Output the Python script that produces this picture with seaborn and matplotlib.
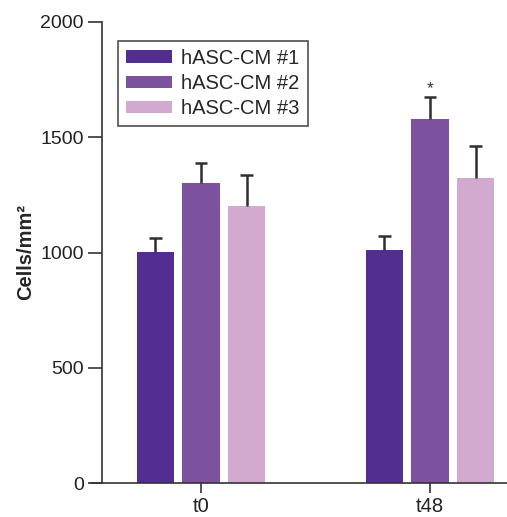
import matplotlib
matplotlib.use("Agg")
import matplotlib.pyplot as plt
import seaborn as sns
import pandas as pd
import numpy as np

timepoints = ["t0", "t48"]
groups = ["hASC-CM #1", "hASC-CM #2", "hASC-CM #3"]
means_t0 = [1002, 1301, 1202]
means_t48 = [1011, 1579, 1323]
err_t0 = [61, 87, 134]
err_t48 = [61, 96, 139]
colors = ["#512E8F", "#7C519E", "#D2A9CF"]

sns.set_style("ticks")
plt.rcParams["font.family"] = ["Liberation Sans", "DejaVu Sans"]

df = pd.DataFrame({
    "time": [t for t in timepoints for _ in groups],
    "group": groups * 2,
    "value": means_t0 + means_t48,
    "err": err_t0 + err_t48,
})

fig = plt.figure(figsize=(5.07, 5.17), dpi=100)
ax = fig.add_axes([91/507, (517-483)/517, (507-91)/507, (483-22)/517])

sns.barplot(data=df, x="time", y="value", hue="group", order=timepoints,
            hue_order=groups, palette=colors, width=0.6, gap=0.19,
            errorbar=None, ax=ax, saturation=1, linewidth=0)

# error bars (upper only) at bar centers
bars = [p for p in ax.patches if p.get_height() > 0 and p.get_width() < 0.5]
bars_sorted = sorted(bars, key=lambda p: p.get_x())
ecol = "#2e2e2e"
cap_half = 0.028
for p in bars_sorted:
    cx = p.get_x() + p.get_width() / 2
    h = p.get_height()
    row = df.iloc[(df["value"] - h).abs().argmin()]
    top = h + row["err"]
    ax.vlines(cx, h, top, color=ecol, linewidth=1.8, zorder=3)
    ax.hlines(top, cx - cap_half, cx + cap_half, color=ecol, linewidth=1.8, zorder=3)

# significance star above t48 #2
star_bar = [p for p in bars_sorted if abs(p.get_height() - means_t48[1]) < 1][0]
ax.text(star_bar.get_x() + star_bar.get_width() / 2, means_t48[1] + err_t48[1] + 5,
        "*", ha="center", va="bottom", fontsize=12.5, color="#333333")

ax.set_xlim(-0.48, 1.336)
ax.set_ylim(0, 2000)
ax.set_yticks([0, 500, 1000, 1500, 2000])
ax.set_xlabel("")
ax.set_ylabel("Cells/mm²", fontsize=14.5, fontweight="bold", labelpad=4)
ax.spines["top"].set_visible(False)
ax.spines["right"].set_visible(False)
ax.spines["left"].set_position(("data", -0.432))
for s in ["left", "bottom"]:
    ax.spines[s].set_color("#333333")
    ax.spines[s].set_linewidth(1.2)
ax.tick_params(axis="y", labelsize=14, length=10, width=1.2, color="#333333",
               labelcolor="#222222", pad=3)
ax.tick_params(axis="x", labelsize=14.5, length=7.5, width=1.2, color="#333333",
               labelcolor="#222222", pad=2.5)

leg = ax.legend(loc="upper left", bbox_to_anchor=(0.065, 0.959), frameon=True,
                borderaxespad=0,
                fontsize=14.5, handlelength=2.3, handleheight=0.6,
                borderpad=0.4, labelspacing=0.3, handletextpad=0.45,
                fancybox=False, edgecolor="#222222")
leg.get_frame().set_linewidth(1.2)

fig.savefig("out.png", dpi=100)
